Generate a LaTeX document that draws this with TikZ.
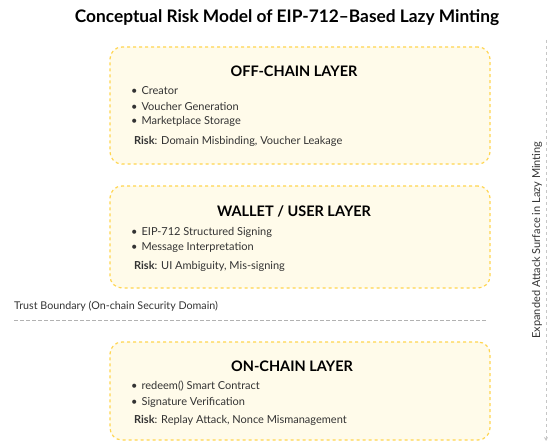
\documentclass[tikz,border=0pt]{standalone}
\usepackage{fontspec}
\setmainfont{Lato}
\usetikzlibrary{arrows.meta}
\definecolor{layerfill}{HTML}{FFFBEA}
\definecolor{layerline}{HTML}{FFD54F}
\definecolor{bodytext}{HTML}{333333}
\begin{document}
\begin{tikzpicture}[x=1pt,y=-1pt,
    layer/.style={draw=layerline,fill=layerfill,dashed,line width=1.2pt,rounded corners=12pt,
      minimum width=380pt,inner sep=0pt},
    layertitle/.style={font=\fontsize{14.5}{16}\selectfont\bfseries,text=black},
    item/.style={anchor=west,inner sep=0pt,font=\fontsize{11}{13}\selectfont,text=bodytext},
    guide/.style={draw=gray!45,dashed,line width=0.8pt}]
  \useasboundingbox (0,0) rectangle (548,441);
  %titolo
  \node[font=\fontsize{17.3}{20}\selectfont\bfseries] (title) at (287,18) {Conceptual Risk Model of EIP-712–Based Lazy Minting};
  %livello off-chain
  \node[layer,minimum height=117pt] (offbox) at (300,105.5) {};
  \node[layertitle] (offtitle) at (294,71) {OFF-CHAIN LAYER};
  \node[item] (off1) at (131,91) {\textbullet\hspace{4pt}Creator};
  \node[item] (off2) at (131,106) {\textbullet\hspace{4pt}Voucher Generation};
  \node[item] (off3) at (131,121) {\textbullet\hspace{4pt}Marketplace Storage};
  \node[item] (offrisk) at (134,141) {\textbf{Risk}: Domain Misbinding, Voucher Leakage};
  %livello wallet
  \node[layer,minimum height=102pt] (walbox) at (300,237) {};
  \node[layertitle] (waltitle) at (294,211) {WALLET / USER LAYER};
  \node[item] (wal1) at (131,232) {\textbullet\hspace{4pt}EIP-712 Structured Signing};
  \node[item] (wal2) at (131,247) {\textbullet\hspace{4pt}Message Interpretation};
  \node[item] (walrisk) at (134,266) {\textbf{Risk}: UI Ambiguity, Mis-signing};
  %confine di fiducia
  \node[item,font=\fontsize{10.7}{13}\selectfont] (trust) at (14,306) {Trust Boundary (On-chain Security Domain)};
  \coordinate (tbl) at (14,320);
  \coordinate (tbr) at (486,320);
  \draw[guide,draw=gray!60,dash pattern=on 4pt off 2pt] (tbl) -- (tbr);
  %livello on-chain
  \node[layer,minimum height=98pt] (onbox) at (300,391) {};
  \node[layertitle] (ontitle) at (292,366) {ON-CHAIN LAYER};
  \node[item] (on1) at (131,386) {\textbullet\hspace{4pt}redeem() Smart Contract};
  \node[item] (on2) at (131,402) {\textbullet\hspace{4pt}Signature Verification};
  \node[item] (onrisk) at (134,420) {\textbf{Risk}: Replay Attack, Nonce Mismanagement};
  %superficie di attacco
  \node[font=\fontsize{11}{13}\selectfont,text=bodytext,rotate=90] (surface) at (537,240) {Expanded Attack Surface in Lazy Minting};
  \coordinate (axtop) at (546,40);
  \coordinate (axbot) at (546,441);
  \draw[guide,-{Stealth[length=4pt,width=4pt]}] (axtop) -- (axbot);
\end{tikzpicture}
\end{document}
